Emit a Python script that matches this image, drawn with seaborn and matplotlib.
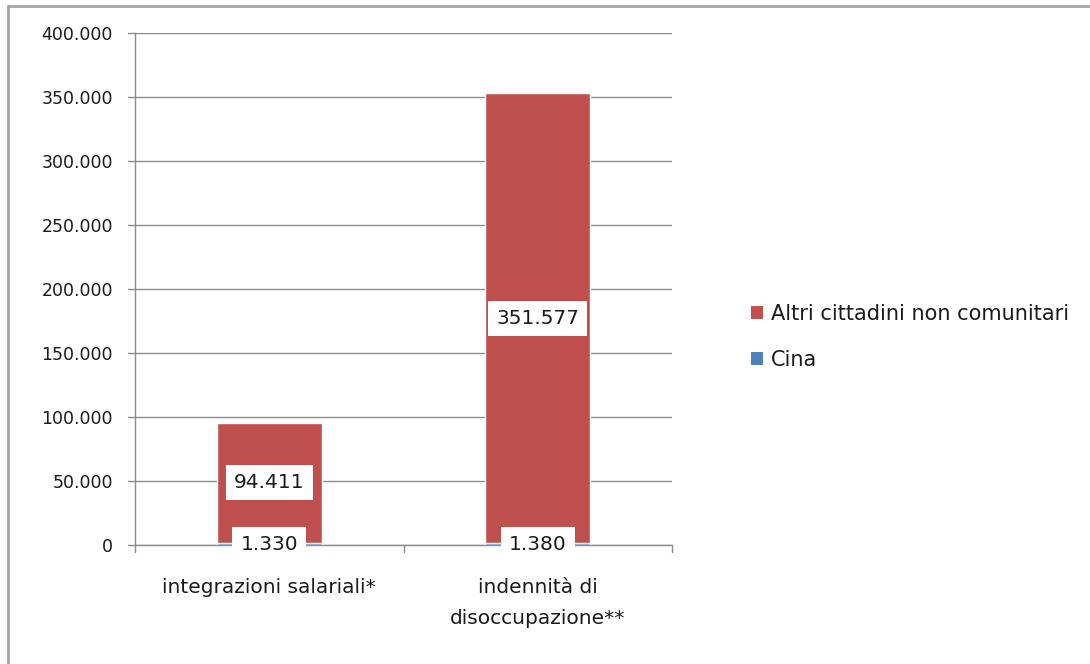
import matplotlib
matplotlib.use("Agg")
import matplotlib.pyplot as plt
import seaborn as sns
import pandas as pd
from matplotlib.lines import Line2D
from matplotlib.patches import Patch

categories = ['integrazioni salariali*', 'indennità di\ndisoccupazione**']
cina = [1330, 1380]
altri = [94411, 351577]
yticks = [0, 50000, 100000, 150000, 200000, 250000, 300000, 350000, 400000]

red = '#C0504D'
blue = '#4F81BD'
grid_col = '#8C8C8C'
txt_col = '#1a1a1a'

sns.set_theme(style='white')
plt.rcParams['font.family'] = ['DejaVu Sans']


def fmt(v):
    return f'{v:,}'.replace(',', '.')


df = pd.DataFrame({'categoria': categories, 'Cina': cina, 'Altri': altri})
df['totale'] = df['Cina'] + df['Altri']

fig = plt.figure(figsize=(10.9, 6.64), dpi=100)
ax = fig.add_axes([0.1239, 0.1792, 0.4926, 0.7708])

# stacked: total in red, Cina on the bottom in blue
sns.barplot(data=df, x='categoria', y='totale', color=red, width=0.39,
            saturation=1, ax=ax, zorder=2)
sns.barplot(data=df, x='categoria', y='Cina', color=blue, width=0.39,
            saturation=1, ax=ax, zorder=3)

ax.set_ylim(0, 400000)
ax.set_xlim(-0.5, 1.5)
ax.set_yticks(yticks)
ax.set_yticklabels([fmt(v) for v in yticks], fontsize=12.5)
ax.set_xticks([0, 1])
ax.set_xticklabels(categories, fontsize=14.5, color=txt_col, linespacing=1.75,
                   va='top')
ax.tick_params(axis='x', length=0, pad=24)
ax.tick_params(axis='y', length=0, pad=16, colors=txt_col)
ax.set_xlabel('')
ax.set_ylabel('')

ax.grid(axis='y', color=grid_col, lw=1.0, zorder=0)
ax.set_axisbelow(True)
for s in ['top', 'right']:
    ax.spines[s].set_visible(False)
for s in ['left', 'bottom']:
    ax.spines[s].set_color(grid_col)
    ax.spines[s].set_linewidth(1.0)

# tick marks drawn by hand (outside, Excel style)
for yt in yticks:
    ax.plot([-0.528, -0.5], [yt, yt], color=grid_col, lw=1.0, clip_on=False, zorder=1)
for xb in [-0.5, 0.5, 1.5]:
    ax.plot([xb, xb], [0, -5500], color=grid_col, lw=1.0, clip_on=False, zorder=1)

box = dict(boxstyle='square,pad=0.4', fc='white', ec='none')
for i in range(len(categories)):
    ax.text(i, cina[i] / 2, fmt(cina[i]), ha='center', va='center',
            fontsize=14.5, color=txt_col, bbox=box, zorder=5)
    ax.text(i, cina[i] + altri[i] / 2, fmt(altri[i]), ha='center',
            va='center', fontsize=14.5, color=txt_col, bbox=box, zorder=5)

handles = [Patch(fc=red, ec='none'), Patch(fc=blue, ec='none')]
fig.legend(handles, ['Altri cittadini non comunitari', 'Cina'],
           loc='center left', bbox_to_anchor=(0.672, 0.493), frameon=False,
           fontsize=15, handlelength=0.55, handleheight=0.55, handletextpad=0.4,
           labelspacing=1.25, labelcolor=txt_col)

# outer chart frame (left and top edges visible)
fig.add_artist(Line2D([0.0075, 0.0075], [0, 0.991], color='#A6A6A6', lw=2,
                      transform=fig.transFigure))
fig.add_artist(Line2D([0.0075, 1.0], [0.991, 0.991], color='#A6A6A6', lw=2,
                      transform=fig.transFigure))

fig.savefig('out.png', dpi=100)
